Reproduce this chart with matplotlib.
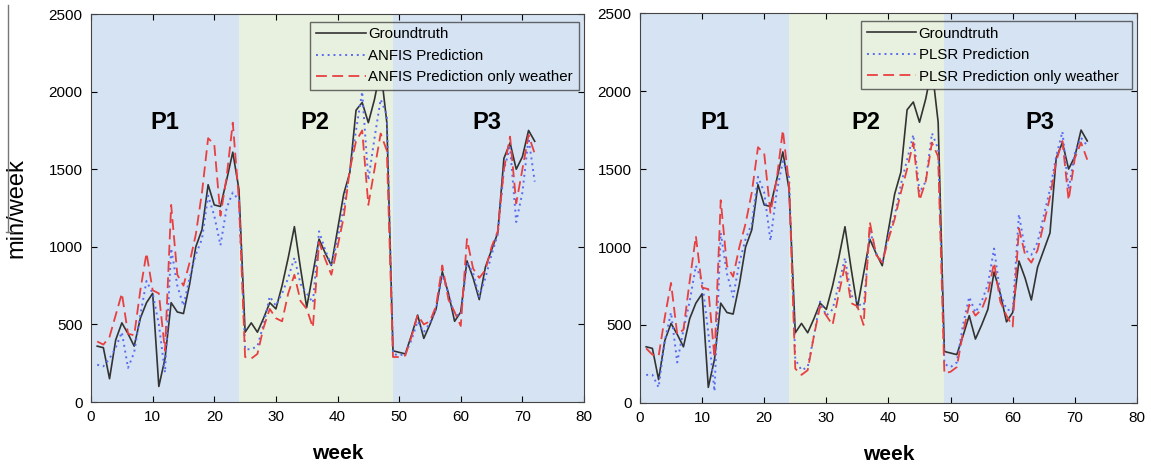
import numpy as np
import matplotlib
matplotlib.use("Agg")
import matplotlib.pyplot as plt
from matplotlib.patches import Rectangle
from matplotlib.lines import Line2D

plt.rcParams['font.family'] = ['Liberation Sans Narrow', 'Liberation Sans', 'DejaVu Sans']

# --- data ---
weeks = np.arange(1, 73)

groundtruth = [360, 350, 150, 400, 510, 440, 360, 540, 640, 700, 100, 280,
               640, 580, 570, 760, 1000, 1110, 1400, 1270, 1260, 1430, 1610, 1370,
               450, 510, 450, 540, 640, 600, 750, 930, 1130, 860, 610, 830,
               1050, 960, 880, 1110, 1340, 1480, 1880, 1930, 1800, 1950, 2150, 1800,
               330, 320, 310, 430, 560, 410, 500, 600, 840, 700, 520, 580,
               910, 800, 660, 870, 980, 1090, 1570, 1670, 1500, 1580, 1750, 1680]

anfis = [240, 230, 280, 350, 450, 220, 320, 560, 780, 700, 500, 190,
         990, 750, 620, 800, 950, 1050, 1330, 1200, 1010, 1250, 1350, 1300,
         340, 340, 360, 500, 680, 620, 700, 800, 930, 760, 700, 640,
         1100, 980, 880, 1050, 1250, 1500, 1750, 2000, 1430, 1700, 1950, 1850,
         310, 300, 310, 400, 520, 450, 510, 600, 820, 700, 560, 560,
         900, 830, 680, 800, 950, 1080, 1500, 1640, 1160, 1350, 1700, 1420]

anfis_weather = [390, 370, 420, 560, 700, 440, 430, 720, 960, 720, 700, 330,
                 1270, 820, 750, 900, 1080, 1350, 1700, 1660, 1200, 1450, 1800, 1300,
                 290, 280, 310, 480, 600, 540, 520, 700, 820, 650, 600, 480,
                 1030, 920, 820, 1000, 1190, 1500, 1680, 1750, 1270, 1500, 1730, 1620,
                 290, 290, 300, 420, 560, 500, 520, 620, 880, 660, 580, 490,
                 1050, 860, 800, 850, 1000, 1100, 1500, 1710, 1280, 1500, 1720, 1600]

plsr = [180, 180, 100, 400, 580, 260, 470, 650, 880, 780, 450, 75,
        1090, 830, 680, 900, 1050, 1150, 1450, 1350, 1040, 1350, 1550, 1450,
        280, 210, 230, 430, 650, 560, 600, 760, 930, 690, 650, 600,
        1110, 960, 900, 1080, 1200, 1400, 1560, 1720, 1350, 1420, 1730, 1630,
        250, 230, 260, 500, 680, 580, 650, 760, 990, 700, 600, 590,
        1210, 980, 950, 1030, 1200, 1370, 1580, 1740, 1370, 1600, 1700, 1650]

plsr_weather = [350, 310, 300, 550, 770, 440, 470, 780, 1070, 740, 730, 290,
                1300, 880, 810, 1000, 1150, 1350, 1640, 1600, 1220, 1430, 1750, 1400,
                220, 180, 210, 430, 620, 560, 500, 700, 880, 640, 620, 500,
                1160, 950, 900, 1050, 1180, 1350, 1500, 1670, 1300, 1420, 1670, 1580,
                190, 200, 230, 450, 630, 560, 600, 700, 900, 650, 560, 490,
                1120, 950, 900, 980, 1150, 1320, 1550, 1680, 1300, 1570, 1670, 1560]

periods = [(0, 24, 'P1', 12), (24, 49, 'P2', 36.3), (49, 80, 'P3', 64.3)]
period_colors = ['#d5e3f3', '#e8f1df', '#d5e3f3']

# --- figure ---
fig = plt.figure(figsize=(11.51, 4.68), dpi=100)
ax1 = fig.add_axes([0.0791, 0.141, 0.4283, 0.829])
ax2 = fig.add_axes([0.556, 0.139, 0.4318, 0.833])

panels = [(ax1, anfis, anfis_weather, 'ANFIS'), (ax2, plsr, plsr_weather, 'PLSR')]
legends = []

for ax, pred, pred_w, name in panels:
    for (x0, x1, lab, xc), col in zip(periods, period_colors):
        ax.axvspan(x0, x1, color=col, lw=0, zorder=0)
        ax.text(xc, 1800, lab, fontsize=17, fontweight='bold', family=['Liberation Sans', 'DejaVu Sans'],
                ha='center', va='center', zorder=3)

    ax.plot(weeks, groundtruth, color='#333333', lw=1.2, label='Groundtruth', zorder=4)
    ax.plot(weeks, pred, color='#5a6bf0', lw=1.4, ls=(0, (1, 2)), label=name + ' Prediction', zorder=5)
    ax.plot(weeks, pred_w, color='#e84040', lw=1.3, ls=(0, (6, 3)),
            label=name + ' Prediction only weather', zorder=6)

    ax.set_xlim(0, 80)
    ax.set_ylim(0, 2500)
    ax.set_xticks(range(0, 81, 10))
    ax.set_yticks(range(0, 2501, 500))
    ax.tick_params(direction='in', top=True, right=True, labelsize=11, length=4, pad=6)
    for sp in ax.spines.values():
        sp.set_color('#444444')
    ax.set_xlabel('week', fontsize=15, fontweight='bold', labelpad=14,
                  family=['Liberation Sans', 'DejaVu Sans'])

    leg = ax.legend(loc='upper left', bbox_to_anchor=(0.445, 0.98, 0.545, 0.0), mode='expand',
                    fontsize=10.8, frameon=True, fancybox=False, borderaxespad=0,
                    handlelength=3.3, handletextpad=0.15, labelspacing=0.5, borderpad=0.38)
    leg.get_frame().set_facecolor('none')
    leg.get_frame().set_edgecolor('#444444')
    leg.get_frame().set_linewidth(1.0)
    leg.set_zorder(8)
    legends.append((ax, leg))

ax1.set_ylabel('min/week', fontsize=17, labelpad=12,
               family=['Liberation Sans', 'DejaVu Sans'])
ax1.yaxis.set_label_coords(-0.13, 0.5)

# thin crop edge line at the far left of the source image
fig.add_artist(Line2D([8 / 1151, 8 / 1151], [1 - 5 / 468, 1 - 232 / 468],
                      color='#777777', lw=1))
fig.add_artist(Line2D([6 / 1151, 13 / 1151], [1 - 232 / 468, 1 - 232 / 468],
                      color='#777777', lw=1))

# the legend hides the curves behind it, but the period shading shows through
fig.canvas.draw()
for ax, leg in legends:
    bb = leg.get_window_extent().transformed(ax.transData.inverted())
    for (x0, x1, lab, xc), col in zip(periods, period_colors):
        lo, hi = max(x0, bb.x0), min(x1, bb.x1)
        if hi > lo:
            ax.add_patch(Rectangle((lo, bb.y0), hi - lo, bb.y1 - bb.y0,
                                   facecolor=col, lw=0, zorder=7))

fig.savefig('out.png', dpi=100)
